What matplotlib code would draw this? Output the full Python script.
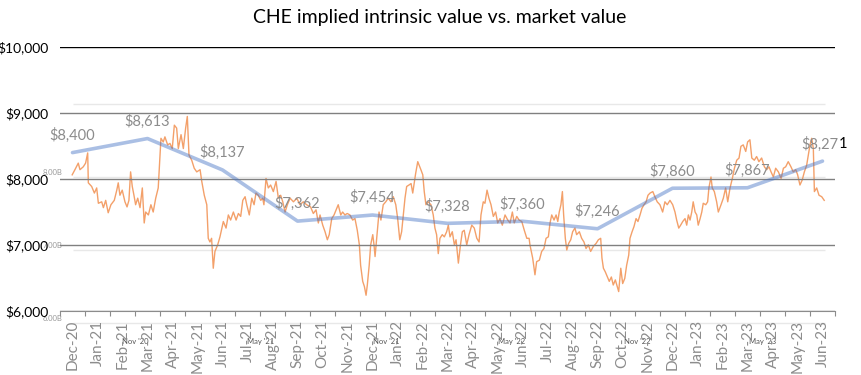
import numpy as np
import matplotlib
matplotlib.use("Agg")
import matplotlib.pyplot as plt
from matplotlib.ticker import FuncFormatter
from matplotlib.transforms import blended_transform_factory

plt.rcParams['font.family'] = ['Lato', 'DejaVu Sans']

# monthly category axis of the Excel chart
months = ['Dec-20',
          'Jan-21', 'Feb-21', 'Mar-21', 'Apr-21', 'May-21', 'Jun-21',
          'Jul-21', 'Aug-21', 'Sep-21', 'Oct-21', 'Nov-21', 'Dec-21',
          'Jan-22', 'Feb-22', 'Mar-22', 'Apr-22', 'May-22', 'Jun-22',
          'Jul-22', 'Aug-22', 'Sep-22', 'Oct-22', 'Nov-22', 'Dec-22',
          'Jan-23', 'Feb-23', 'Mar-23', 'Apr-23', 'May-23', 'Jun-23']

# implied intrinsic value, quarterly
iv_months = ['Dec-20', 'Mar-21', 'Jun-21', 'Sep-21', 'Dec-21', 'Mar-22',
             'Jun-22', 'Sep-22', 'Dec-22', 'Mar-23', 'Jun-23']
iv_values = [8400, 8613, 8137, 7362, 7454, 7328, 7360, 7246, 7860, 7867, 8271]

# pasted market cap chart: months since Nov '20, market cap in $B
mcap_month = [
    -3.00, -2.87, -2.71, -2.63, -2.47, -2.36, -2.26, -2.23, -2.07, -1.94,
    -1.83, -1.75, -1.59, -1.51, -1.40, -1.28, -1.15, -0.99, -0.87, -0.80,
    -0.72, -0.61, -0.48, -0.38, -0.29, -0.21, -0.13, -0.05, 0.03, 0.13,
    0.24, 0.35, 0.44, 0.51, 0.64, 0.76, 0.87, 0.99, 1.11, 1.19,
    1.24, 1.35, 1.43, 1.56, 1.67, 1.78, 1.88, 1.99, 2.07, 2.20,
    2.31, 2.42, 2.50, 2.58, 2.71, 2.83, 2.95, 3.11, 3.19, 3.31,
    3.43, 3.50, 3.58, 3.66, 3.74, 3.82, 3.95, 4.06, 4.22, 4.35,
    4.46, 4.57, 4.70, 4.83, 4.94, 5.05, 5.15, 5.26, 5.34, 5.46,
    5.58, 5.69, 5.78, 5.89, 6.01, 6.10, 6.16, 6.26, 6.37, 6.48,
    6.61, 6.74, 6.85, 6.96, 7.06, 7.17, 7.28, 7.41, 7.57, 7.73,
    7.88, 8.04, 8.20, 8.39, 8.52, 8.65, 8.76, 8.84, 8.97, 9.08,
    9.19, 9.28, 9.40, 9.51, 9.64, 9.71, 9.83, 9.92, 10.03, 10.14,
    10.27, 10.40, 10.51, 10.62, 10.72, 10.78, 10.88, 10.96, 11.04, 11.10,
    11.19, 11.26, 11.36, 11.42, 11.47, 11.55, 11.66, 11.75, 11.86, 11.98,
    12.10, 12.23, 12.34, 12.46, 12.55, 12.65, 12.74, 12.82, 12.90, 12.98,
    13.09, 13.19, 13.27, 13.35, 13.41, 13.51, 13.58, 13.66, 13.75, 13.82,
    13.90, 14.01, 14.14, 14.25, 14.33, 14.41, 14.49, 14.57, 14.68, 14.78,
    14.89, 14.97, 15.05, 15.16, 15.26, 15.34, 15.45, 15.55, 15.64, 15.73,
    15.85, 15.96, 16.09, 16.21, 16.33, 16.44, 16.53, 16.64, 16.72, 16.82,
    16.91, 17.01, 17.12, 17.23, 17.33, 17.44, 17.55, 17.68, 17.81, 17.92,
    18.03, 18.12, 18.24, 18.35, 18.48, 18.60, 18.72, 18.83, 18.87, 19.00,
    19.11, 19.19, 19.32, 19.43, 19.54, 19.64, 19.75, 19.83, 19.91, 20.02,
    20.12, 20.20, 20.27, 20.35, 20.42, 20.48, 20.56, 20.63, 20.72, 20.82,
    20.91, 21.02, 21.10, 21.23, 21.34, 21.45, 21.55, 21.66, 21.77, 21.90,
    22.03, 22.14, 22.25, 22.31, 22.38, 22.47, 22.57, 22.66, 22.76, 22.85,
    22.95, 23.04, 23.11, 23.21, 23.30, 23.40, 23.49, 23.59, 23.65, 23.75,
    23.84, 23.94, 24.03, 24.13, 24.22, 24.32, 24.42, 24.51, 24.61, 24.74,
    24.84, 24.95, 25.08, 25.21, 25.32, 25.43, 25.56, 25.69, 25.80, 25.88,
    25.98, 26.07, 26.17, 26.28, 26.36, 26.44, 26.52, 26.60, 26.67, 26.76,
    26.84, 26.91, 27.00, 27.08, 27.15, 27.27, 27.36, 27.42, 27.52, 27.58,
    27.68, 27.79, 27.87, 28.00, 28.11, 28.22, 28.32, 28.43, 28.54, 28.64,
    28.75, 28.86, 28.95, 29.06, 29.18, 29.27, 29.38, 29.47, 29.59, 29.70,
    29.81, 29.94, 30.07, 30.18, 30.29, 30.39, 30.50, 30.61, 30.74, 30.87,
    30.98, 31.09, 31.21, 31.34, 31.45, 31.57, 31.66, 31.77, 31.88, 31.98,
    32.09, 32.17, 32.25, 32.33, 32.41, 32.46, 32.57, 32.68, 32.81, 32.93]

mcap_bn = [
    8.03, 8.10, 8.19, 8.10, 8.14, 8.19, 8.33, 7.92, 7.87, 7.78,
    7.85, 7.64, 7.66, 7.58, 7.68, 7.51, 7.62, 7.68, 7.82, 7.92,
    7.75, 7.82, 7.66, 7.59, 7.68, 8.07, 7.87, 7.75, 7.62, 7.71,
    7.58, 7.85, 7.37, 7.52, 7.48, 7.62, 7.52, 7.71, 7.85, 8.26,
    8.53, 8.48, 8.55, 8.44, 8.46, 8.39, 8.71, 8.67, 8.39, 8.58,
    8.39, 8.67, 8.83, 8.30, 8.23, 8.12, 8.07, 8.10, 7.94, 7.75,
    7.62, 7.16, 7.11, 7.16, 6.75, 6.98, 7.07, 7.18, 7.39, 7.30,
    7.48, 7.41, 7.52, 7.41, 7.50, 7.46, 7.68, 7.73, 7.62, 7.48,
    7.71, 7.62, 7.78, 7.75, 7.68, 7.71, 7.62, 7.98, 7.85, 7.89,
    7.80, 7.94, 7.71, 7.75, 7.66, 7.52, 7.62, 7.71, 7.66, 7.71,
    7.62, 7.66, 7.62, 7.59, 7.50, 7.55, 7.37, 7.48, 7.34, 7.25,
    7.14, 7.21, 7.43, 7.48, 7.57, 7.62, 7.48, 7.52, 7.48, 7.50,
    7.48, 7.41, 7.43, 7.27, 7.07, 6.79, 6.57, 6.50, 6.38, 6.52,
    6.79, 7.07, 7.21, 7.07, 6.91, 7.16, 7.52, 7.41, 7.62, 7.66,
    7.71, 7.66, 7.73, 7.62, 7.43, 7.14, 7.25, 7.48, 7.71, 7.87,
    7.89, 7.91, 7.78, 7.94, 8.05, 8.21, 8.16, 8.10, 8.03, 7.80,
    7.62, 7.66, 7.62, 7.48, 7.30, 7.21, 6.95, 7.16, 7.21, 7.18,
    7.25, 7.34, 7.18, 7.25, 7.07, 7.14, 6.82, 7.07, 7.25, 7.27,
    7.07, 7.21, 7.34, 7.30, 7.16, 7.11, 7.48, 7.66, 7.64, 7.82,
    7.71, 7.62, 7.46, 7.52, 7.37, 7.43, 7.34, 7.48, 7.41, 7.37,
    7.52, 7.37, 7.46, 7.41, 7.39, 7.27, 7.16, 7.16, 7.07, 6.89,
    6.66, 6.84, 6.86, 6.98, 7.02, 7.16, 7.18, 7.37, 7.48, 7.41,
    7.48, 7.39, 7.52, 7.62, 7.80, 7.48, 7.16, 7.00, 7.09, 7.14,
    7.25, 7.30, 7.21, 7.25, 7.16, 7.11, 7.02, 7.07, 6.98, 7.05,
    7.09, 7.14, 7.16, 6.89, 6.75, 6.70, 6.63, 6.57, 6.63, 6.52,
    6.59, 6.50, 6.43, 6.75, 6.54, 6.61, 6.79, 6.93, 7.16, 7.25,
    7.32, 7.43, 7.39, 7.48, 7.57, 7.62, 7.66, 7.75, 7.78, 7.80,
    7.73, 7.66, 7.62, 7.52, 7.66, 7.62, 7.68, 7.62, 7.52, 7.41,
    7.30, 7.34, 7.39, 7.43, 7.34, 7.48, 7.41, 7.52, 7.66, 7.52,
    7.48, 7.34, 7.43, 7.52, 7.64, 7.62, 7.66, 7.85, 8.00, 7.85,
    7.80, 7.66, 7.52, 7.62, 7.71, 7.85, 7.66, 7.85, 7.98, 8.12,
    8.23, 8.26, 8.42, 8.44, 8.35, 8.48, 8.51, 8.26, 8.23, 8.28,
    8.21, 8.26, 8.14, 8.10, 8.14, 8.07, 8.00, 8.12, 8.07, 7.98,
    8.12, 8.14, 8.21, 8.14, 8.07, 8.10, 8.03, 7.89, 7.96, 8.07,
    8.16, 8.30, 8.44, 8.53, 8.39, 7.80, 7.85, 7.75, 7.73, 7.68]

overlay_tick_months = [0, 6, 12, 18, 24, 30]
overlay_tick_labels = ["Nov '20", "May '21", "Nov '21", "May '22", "Nov '22", "May '23"]
overlay_levels = [6, 7, 8, 9]
overlay_level_labels = ['6.00B', '7.00B', '8.00B', '9.00B']

y_ticks = [6000, 7000, 8000, 9000, 10000]


def draw_overlay(fig, rect):
    # the pasted market-cap screenshot, sits below the Excel chart
    ax2 = fig.add_axes(rect)
    ax2.set_xlim(-3.583, 33.445)
    ax2.set_ylim(6.164, 9.781)
    ax2.axis('off')

    ax2.hlines(overlay_levels, -2.96, 32.97, color='#e8e8e8', lw=1.0, clip_on=False)
    ax2.plot(mcap_month, mcap_bn, color='#F3A06A', lw=1.0)

    tr = blended_transform_factory(ax2.transAxes, ax2.transData)
    for lvl, lab in zip(overlay_levels[:3], overlay_level_labels[:3]):
        ax2.text(0.003, lvl + 0.01, lab, transform=tr, ha='right', va='bottom',
                 fontsize=5.5, color='#9a9a9a', clip_on=False)

    trx = blended_transform_factory(ax2.transData, ax2.transAxes)
    for m, lab in zip(overlay_tick_months, overlay_tick_labels):
        ax2.text(m, -0.117, lab, transform=trx, ha='center', va='center',
                 fontsize=5.5, color='#555555', clip_on=False)
    return ax2


def main():
    fig = plt.figure(figsize=(8.61, 3.75), dpi=100)
    rect = [60 / 861, 64 / 375, 775 / 861, 264 / 375]

    ax2 = draw_overlay(fig, rect)

    ax = fig.add_axes(rect)
    ax.set_zorder(ax2.get_zorder() + 1)
    ax.patch.set_visible(False)

    x = np.arange(len(months))
    iv_x = [months.index(m) for m in iv_months]
    ax.plot(iv_x, iv_values, color='#4472C4', alpha=0.45, lw=2.6,
            solid_capstyle='round', zorder=3)

    for i, (xi, v) in enumerate(zip(iv_x, iv_values)):
        lab = f"${v:,.0f}"
        if i == len(iv_values) - 1:
            # last label is half covered by a black one in the original
            ax.annotate(lab[:-1], (xi, v), xytext=(11.5, 7), textcoords='offset points',
                        ha='right', va='bottom', fontsize=10.5, color='#8c8c8c',
                        annotation_clip=False)
            ax.annotate(lab[-1], (xi, v), xytext=(11.5, 7), textcoords='offset points',
                        ha='left', va='bottom', fontsize=10.5, color='black',
                        annotation_clip=False)
        else:
            ax.annotate(lab, (xi, v), xytext=(0, 7), textcoords='offset points',
                        ha='center', va='bottom', fontsize=10.5, color='#8c8c8c')

    ax.set_xlim(-0.5, len(months) - 0.5)
    ax.set_ylim(6000, 10000)

    ax.set_yticks(y_ticks)
    ax.yaxis.set_major_formatter(FuncFormatter(lambda v, p: f"${v:,.0f}"))
    ax.tick_params(axis='y', length=0, pad=8, labelsize=10, labelcolor='black')
    ax.yaxis.grid(True, color='#808080', lw=1.0)
    ax.get_ygridlines()[-1].set_color('black')
    ax.set_axisbelow(False)

    ax.set_xticks(x)
    ax.set_xticklabels(months, rotation=90)
    ax.set_xticks(np.arange(-0.5, len(months)), minor=True)
    ax.tick_params(axis='x', which='major', length=0, pad=6.5, labelsize=11,
                   labelcolor='#8c8c8c')
    ax.tick_params(axis='x', which='minor', length=3.6, width=0.8, color='#8c8c8c',
                   direction='out')

    for s in ['top', 'right', 'left']:
        ax.spines[s].set_visible(False)
    ax.spines['bottom'].set_color('#8c8c8c')
    ax.spines['bottom'].set_linewidth(0.8)

    fig.text(440 / 861, 1 - 18 / 375, 'CHE implied intrinsic value vs. market value',
             ha='center', va='center', fontsize=14, color='black')

    fig.savefig('out.png', dpi=100)


if __name__ == "__main__":
    main()
